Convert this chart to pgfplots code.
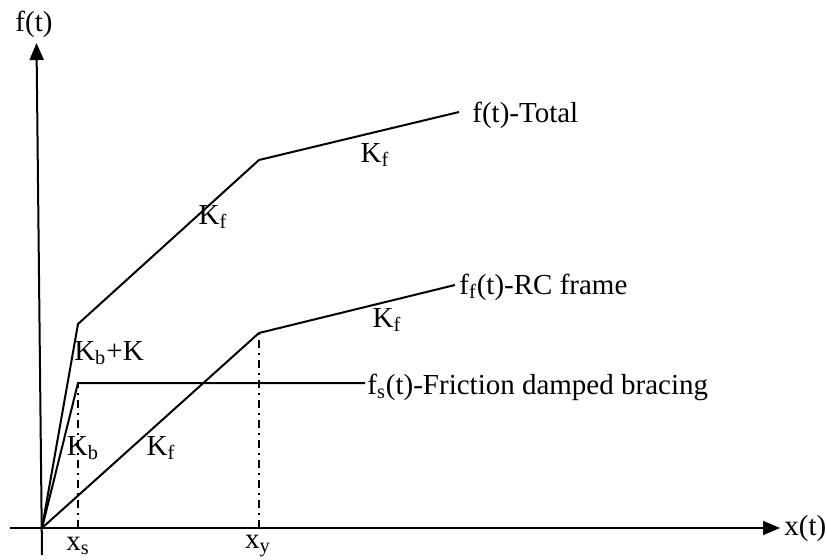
\documentclass[border=0pt]{standalone}
\usepackage{fontspec}
\setmainfont{Liberation Serif}
\usepackage{pgfplots}
\pgfplotsset{compat=1.18}
\usetikzlibrary{arrows.meta}
\tikzset{lbl/.style={font=\fontsize{14.5}{17}\selectfont, inner sep=0pt}}
\begin{document}
\begin{tikzpicture}
\begin{axis}[
  width=413.5pt, height=279.5pt, scale only axis,
  xmin=0, xmax=827, ymin=0, ymax=559,
  hide axis, clip=false,
]
\path (axis cs:0,0) rectangle (axis cs:827,559);
% axes
\addplot[black, line width=1pt, -{Triangle[length=8.5pt,width=7pt]}] coordinates {(42,4) (36.5,516)};
\addplot[black, line width=1pt, -{Triangle[length=8.5pt,width=7pt]}] coordinates {(10,31) (780,31)};
% series
\addplot[black, line width=1pt] coordinates {(42,31) (78,176) (365,176)};
\addplot[black, line width=1pt] coordinates {(42,31) (259,226) (455,274)};
\addplot[black, line width=1pt] coordinates {(42,31) (78,235) (259,399) (459,447)};
% dash-dot
\addplot[black, line width=0.8pt, dash pattern=on 4pt off 2.5pt on 1pt off 2.5pt] coordinates {(78,31) (78,176)};
\addplot[black, line width=0.8pt, dash pattern=on 4pt off 2.5pt on 1pt off 2.5pt] coordinates {(259,31) (259,226)};
% labels
\node[lbl] at (axis cs:34,535) {f(t)};
\node[lbl, anchor=west] at (axis cs:784,30) {x(t)};
\node[lbl, anchor=west] at (axis cs:472,444) {f(t)-Total};
\node[lbl] at (axis cs:375,404) {K\textsubscript{f}};
\node[lbl] at (axis cs:213,342) {K\textsubscript{f}};
\node[lbl, anchor=west] at (axis cs:459,272) {f\textsubscript{f}(t)-RC frame};
\node[lbl] at (axis cs:387,239) {K\textsubscript{f}};
\node[lbl] at (axis cs:109,206) {K\textsubscript{b}+K};
\node[lbl, anchor=west] at (axis cs:367,172) {f\textsubscript{s}(t)-Friction damped bracing};
\node[lbl] at (axis cs:83,111) {K\textsubscript{b}};
\node[lbl] at (axis cs:161,111) {K\textsubscript{f}};
\node[lbl] at (axis cs:78,13) {x\textsubscript{s}};
\node[lbl] at (axis cs:258,13) {x\textsubscript{y}};
\end{axis}
\end{tikzpicture}
\end{document}
